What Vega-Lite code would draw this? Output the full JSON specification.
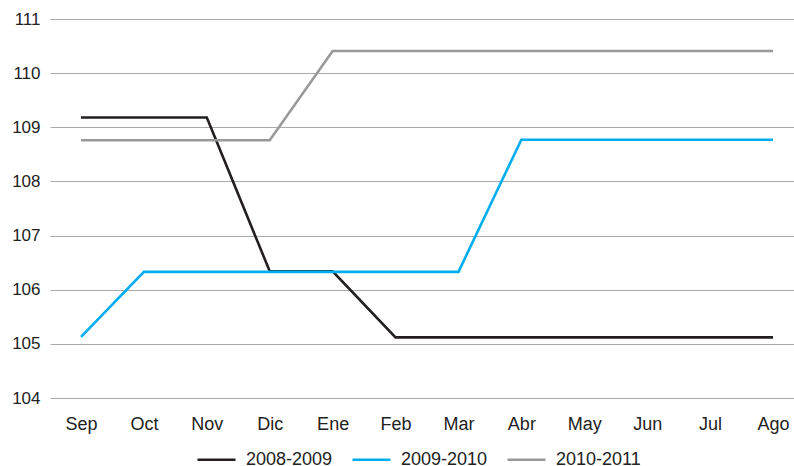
{
  "$schema": "https://vega.github.io/schema/vega-lite/v6.json",
  "width": 754,
  "height": 379,
  "autosize": {"type": "none"},
  "padding": {"left": 50, "top": 19, "right": -10, "bottom": 68},
  "background": "white",
  "data": {
    "values": [
      {"mes": "Sep", "serie": "2008-2009", "v": 109.18},
      {"mes": "Oct", "serie": "2008-2009", "v": 109.18},
      {"mes": "Nov", "serie": "2008-2009", "v": 109.18},
      {"mes": "Dic", "serie": "2008-2009", "v": 106.34},
      {"mes": "Ene", "serie": "2008-2009", "v": 106.34},
      {"mes": "Feb", "serie": "2008-2009", "v": 105.12},
      {"mes": "Mar", "serie": "2008-2009", "v": 105.12},
      {"mes": "Abr", "serie": "2008-2009", "v": 105.12},
      {"mes": "May", "serie": "2008-2009", "v": 105.12},
      {"mes": "Jun", "serie": "2008-2009", "v": 105.12},
      {"mes": "Jul", "serie": "2008-2009", "v": 105.12},
      {"mes": "Ago", "serie": "2008-2009", "v": 105.12},
      {"mes": "Sep", "serie": "2009-2010", "v": 105.13},
      {"mes": "Oct", "serie": "2009-2010", "v": 106.33},
      {"mes": "Nov", "serie": "2009-2010", "v": 106.33},
      {"mes": "Dic", "serie": "2009-2010", "v": 106.33},
      {"mes": "Ene", "serie": "2009-2010", "v": 106.33},
      {"mes": "Feb", "serie": "2009-2010", "v": 106.33},
      {"mes": "Mar", "serie": "2009-2010", "v": 106.33},
      {"mes": "Abr", "serie": "2009-2010", "v": 108.77},
      {"mes": "May", "serie": "2009-2010", "v": 108.77},
      {"mes": "Jun", "serie": "2009-2010", "v": 108.77},
      {"mes": "Jul", "serie": "2009-2010", "v": 108.77},
      {"mes": "Ago", "serie": "2009-2010", "v": 108.77},
      {"mes": "Sep", "serie": "2010-2011", "v": 108.76},
      {"mes": "Oct", "serie": "2010-2011", "v": 108.76},
      {"mes": "Nov", "serie": "2010-2011", "v": 108.76},
      {"mes": "Dic", "serie": "2010-2011", "v": 108.76},
      {"mes": "Ene", "serie": "2010-2011", "v": 110.41},
      {"mes": "Feb", "serie": "2010-2011", "v": 110.41},
      {"mes": "Mar", "serie": "2010-2011", "v": 110.41},
      {"mes": "Abr", "serie": "2010-2011", "v": 110.41},
      {"mes": "May", "serie": "2010-2011", "v": 110.41},
      {"mes": "Jun", "serie": "2010-2011", "v": 110.41},
      {"mes": "Jul", "serie": "2010-2011", "v": 110.41},
      {"mes": "Ago", "serie": "2010-2011", "v": 110.41}
    ]
  },
  "config": {
    "view": {"stroke": null},
    "font": "Liberation Sans",
    "axis": {"labelFont": "Liberation Sans", "labelFontSize": 18, "labelColor": "#222222", "domain": false, "ticks": false, "title": null},
    "legend": {"labelFont": "Liberation Sans", "labelFontSize": 18, "labelColor": "#222222"}
  },
  "mark": {"type": "line", "strokeWidth": 2.6, "strokeJoin": "miter"},
  "encoding": {
    "x": {
      "field": "mes",
      "type": "ordinal",
      "sort": ["Sep", "Oct", "Nov", "Dic", "Ene", "Feb", "Mar", "Abr", "May", "Jun", "Jul", "Ago"],
      "scale": {"type": "point", "padding": 0.493},
      "axis": {"labelAngle": 0, "labelPadding": 17, "grid": false}
    },
    "y": {
      "field": "v",
      "type": "quantitative",
      "scale": {"domain": [104, 111], "zero": false, "nice": false},
      "axis": {"values": [104, 105, 106, 107, 108, 109, 110, 111], "grid": true, "gridColor": "#aaaaaa", "gridWidth": 1, "labelPadding": 10, "labelFontSize": 17, "format": "d"}
    },
    "color": {
      "field": "serie",
      "type": "nominal",
      "scale": {"domain": ["2008-2009", "2009-2010", "2010-2011"], "range": ["#231f20", "#00aeef", "#999999"]},
      "legend": {"orient": "none", "legendX": 146, "legendY": 420, "direction": "horizontal", "title": null, "symbolType": "stroke", "symbolSize": 1444, "symbolStrokeWidth": 2.6, "labelOffset": 9, "columnPadding": 14}
    }
  }
}
